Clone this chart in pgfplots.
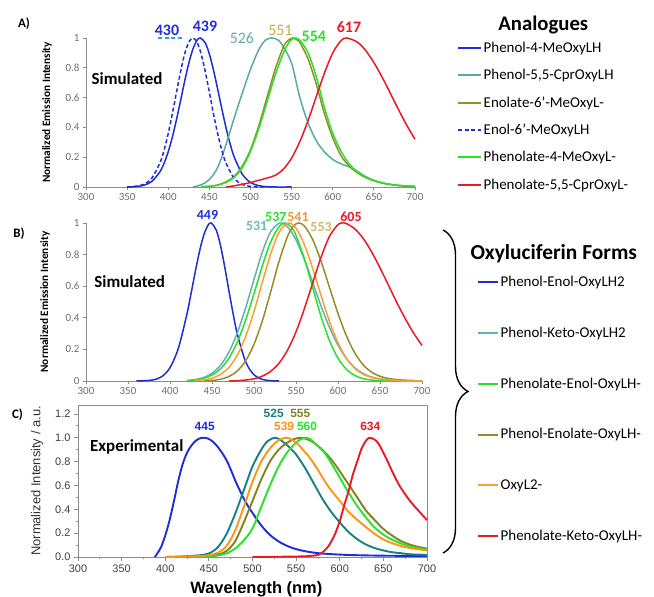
\documentclass[border=0pt]{standalone}
\usepackage{pgfplots}
\pgfplotsset{compat=1.18}
\usepackage{fontspec}
\setmainfont{Carlito}
\newfontfamily\arial{Liberation Sans}
\usetikzlibrary{decorations.pathreplacing}
\definecolor{blueA}{RGB}{30,45,215}
\definecolor{tealA}{RGB}{90,170,160}
\definecolor{oliveA}{RGB}{150,140,40}
\definecolor{greenA}{RGB}{40,225,40}
\definecolor{redA}{RGB}{235,25,35}
\definecolor{cyanA}{RGB}{40,160,235}
\definecolor{tealB}{RGB}{100,175,185}
\definecolor{orangeB}{RGB}{250,160,50}
\definecolor{tealC}{RGB}{20,130,130}
\definecolor{oliveC}{RGB}{130,130,30}
\definecolor{orangeC}{RGB}{250,150,20}
\definecolor{lab526}{RGB}{100,170,165}
\definecolor{lab551}{RGB}{195,175,70}
\definecolor{lab531}{RGB}{110,185,195}
\definecolor{lab553}{RGB}{200,190,100}
\definecolor{lab541}{RGB}{245,150,60}
\definecolor{axgray}{RGB}{140,140,140}
\definecolor{tickgray}{RGB}{110,110,110}
\begin{document}
\begin{tikzpicture}[x=1bp,y=1bp]
\path[use as bounding box] (0,0) rectangle (654,597);

%%%%%%%%%%%%%%%% Panel A
\begin{axis}[at={(86bp,410bp)}, anchor=south west, scale only axis,
  width=329bp, height=149bp, xmin=300, xmax=700, ymin=0, ymax=1,
  axis lines=left, axis line style={-, axgray, line width=0.9bp},
  xtick={300,350,400,450,500,550,600,650,700}, ytick={0,0.2,0.4,0.6,0.8,1},
  tick align=outside, major tick length=3bp, tick style={axgray, line width=0.8bp},
  tick label style={font=\fontsize{11}{13}\selectfont, text=tickgray},
  /pgf/number format/assume math mode=true, clip=false,
  ylabel={Normalized Emission Intensity},
  ylabel style={font=\bfseries\fontsize{11.3}{13}\selectfont, at={(axis description cs:-0.1185,0.5)}, anchor=center},
  legend style={at={(axis description cs:1.1277,0.9745)}, anchor=north west, draw=none, fill=none,
    inner sep=0pt, row sep=15.4bp, font=\fontsize{15}{18}\selectfont,
    nodes={inner xsep=1.5bp, inner ysep=0bp}, cells={anchor=west}},
  legend image code/.code={\draw[#1, line width=2bp] (0bp,0bp) -- (23bp,0bp);},
  every axis plot/.append style={line width=1.5bp, smooth}
]
\addplot[blueA] coordinates {(350,0)(360,0.003)(370,0.011)(380,0.037)(390,0.103)(395,0.16)(400,0.237)(405,0.335)(410,0.452)(415,0.58)(420,0.711)(425,0.831)(430,0.926)(435,0.985)(439,1)(445,0.967)(450,0.892)(455,0.785)(460,0.659)(465,0.528)(470,0.403)(475,0.294)(480,0.204)(490,0.086)(500,0.03)(510,0.009)(520,0.002)(530,0)(550,0)};
\addlegendentry{Phenol-4-MeOxyLH}
\addplot[tealA] coordinates {(430,0)(440,0.015)(450,0.05)(460,0.13)(470,0.28)(480,0.46)(490,0.63)(500,0.79)(510,0.92)(518,0.985)(526,1)(534,0.985)(540,0.94)(550,0.83)(560,0.6)(570,0.43)(580,0.31)(590,0.235)(600,0.185)(610,0.155)(620,0.135)(630,0.105)(640,0.07)(650,0.045)(660,0.027)(670,0.016)(680,0.01)(690,0.006)(700,0.004)};
\addlegendentry{Phenol-5,5-CprOxyLH}
\addplot[oliveA] coordinates {(440,0.002)(450,0.004)(460,0.013)(470,0.034)(480,0.07)(490,0.14)(500,0.25)(510,0.41)(520,0.6)(530,0.79)(540,0.94)(545,0.98)(551,1)(557,0.985)(560,0.97)(570,0.86)(580,0.69)(590,0.49)(600,0.33)(610,0.21)(620,0.14)(630,0.095)(640,0.063)(650,0.042)(660,0.027)(670,0.017)(680,0.01)(690,0.006)(700,0.004)};
\addlegendentry{Enolate-6'-MeOxyL-}
\addplot[blueA, dash pattern=on 4bp off 2.5bp] coordinates {(350,0.001)(360,0.004)(370,0.017)(380,0.059)(390,0.163)(395,0.249)(400,0.36)(405,0.492)(410,0.635)(415,0.775)(420,0.893)(425,0.972)(430,1)(435,0.972)(440,0.893)(445,0.775)(450,0.635)(455,0.492)(460,0.36)(465,0.249)(470,0.163)(480,0.059)(490,0.017)(500,0.004)(510,0.001)(520,0)};
\addlegendentry{Enol-6'-MeOxyLH}
\addplot[greenA] coordinates {(440,0.002)(450,0.005)(460,0.012)(470,0.03)(480,0.065)(490,0.13)(500,0.24)(510,0.39)(520,0.57)(530,0.75)(540,0.9)(548,0.98)(554,1)(560,0.985)(570,0.9)(580,0.74)(590,0.53)(600,0.36)(610,0.24)(620,0.155)(630,0.1)(640,0.066)(650,0.043)(660,0.028)(670,0.018)(680,0.011)(690,0.007)(700,0.004)};
\addlegendentry{Phenolate-4-MeOxyL-}
\addplot[redA] coordinates {(470,0)(480,0.008)(490,0.018)(500,0.03)(510,0.045)(520,0.06)(530,0.078)(540,0.12)(550,0.194)(560,0.305)(570,0.446)(580,0.607)(590,0.766)(600,0.9)(610,0.982)(617,1)(630,0.972)(640,0.916)(650,0.835)(660,0.737)(670,0.629)(680,0.519)(690,0.414)(700,0.32)};
\addlegendentry{Phenolate-5,5-CprOxyL-}
\addplot[cyanA, dash pattern=on 4bp off 2.5bp, forget plot, sharp plot] coordinates {(388,1)(417,1)};
\node[text=blueA, font=\bfseries\fontsize{16}{18}\selectfont] at (axis cs:398.5,1.054) {430};
\node[text=blueA, font=\bfseries\fontsize{16}{18}\selectfont] at (axis cs:444.7,1.076) {439};
\node[text=lab526, font=\fontsize{16}{18}\selectfont] at (axis cs:489.6,0.998) {526};
\node[text=lab551, font=\fontsize{16}{18}\selectfont] at (axis cs:536.4,1.049) {551};
\node[text=greenA, font=\bfseries\fontsize{16}{18}\selectfont] at (axis cs:577,1.009) {554};
\node[text=redA, font=\bfseries\fontsize{16}{18}\selectfont] at (axis cs:619.7,1.076) {617};
\end{axis}

%%%%%%%%%%%%%%%% Panel B
\begin{axis}[at={(86bp,216bp)}, anchor=south west, scale only axis,
  width=336bp, height=158bp, xmin=300, xmax=700, ymin=0, ymax=1,
  axis lines=left, axis line style={-, axgray, line width=0.9bp},
  xtick={300,350,400,450,500,550,600,650,700}, ytick={0,0.2,0.4,0.6,0.8,1},
  tick align=outside, major tick length=3bp, tick style={axgray, line width=0.8bp},
  tick label style={font=\fontsize{11}{13}\selectfont, text=tickgray},
  /pgf/number format/assume math mode=true, clip=false,
  ylabel={Normalized Emission Intensity},
  ylabel style={font=\bfseries\fontsize{11.3}{13}\selectfont, at={(axis description cs:-0.122,0.5)}, anchor=center},
  legend style={at={(axis description cs:1.1637,0.6658)}, anchor=north west, draw=none, fill=none,
    inner sep=0pt, row sep=39bp, font=\fontsize{15}{18}\selectfont,
    nodes={inner xsep=1.5bp, inner ysep=0bp}, cells={anchor=west}},
  legend image code/.code={\draw[#1, line width=2bp] (0bp,0bp) -- (20bp,0bp);},
  every axis plot/.append style={line width=1.5bp, smooth}
]
\addplot[blueA] coordinates {(360,0)(370,0.002)(380,0.007)(390,0.027)(400,0.084)(410,0.208)(420,0.42)(425,0.552)(430,0.689)(435,0.817)(440,0.92)(445,0.984)(449,1)(455,0.956)(460,0.86)(465,0.726)(470,0.576)(475,0.43)(480,0.3)(490,0.122)(500,0.039)(510,0.01)(520,0.002)(530,0)};
\addlegendentry{Phenol-Enol-OxyLH2}
\addplot[tealB] coordinates {(420,0.002)(430,0.009)(440,0.022)(450,0.049)(460,0.099)(470,0.181)(480,0.303)(490,0.462)(500,0.643)(510,0.817)(520,0.946)(531,1)(540,0.975)(550,0.893)(560,0.769)(570,0.622)(580,0.472)(590,0.337)(600,0.226)(610,0.142)(620,0.084)(630,0.047)(640,0.025)(650,0.014)(660,0.008)(670,0.004)(680,0.002)(690,0.001)(700,0)};
\addlegendentry{Phenol-Keto-OxyLH2}
\addplot[greenA] coordinates {(420,0.003)(430,0.007)(440,0.017)(450,0.038)(460,0.077)(470,0.143)(480,0.245)(490,0.385)(500,0.553)(510,0.73)(520,0.882)(530,0.979)(537,1)(545,0.97)(550,0.921)(560,0.772)(570,0.588)(580,0.405)(590,0.254)(600,0.144)(610,0.074)(620,0.035)(630,0.015)(640,0.006)(650,0.002)(660,0.001)(670,0)(700,0)};
\addlegendentry{Phenolate-Enol-OxyLH-}
\addplot[oliveA] coordinates {(440,0.002)(450,0.004)(460,0.011)(470,0.028)(480,0.063)(490,0.127)(500,0.232)(510,0.382)(520,0.567)(530,0.76)(540,0.916)(547,0.98)(553,1)(560,0.981)(570,0.894)(580,0.755)(590,0.59)(600,0.427)(610,0.286)(620,0.177)(630,0.102)(640,0.056)(650,0.03)(660,0.016)(670,0.009)(680,0.005)(690,0.003)(700,0.001)};
\addlegendentry{Phenol-Enolate-OxyLH-}
\addplot[orangeB] coordinates {(430,0.003)(440,0.007)(450,0.018)(460,0.041)(470,0.085)(480,0.162)(490,0.281)(500,0.44)(510,0.626)(520,0.806)(530,0.943)(541,1)(550,0.967)(560,0.863)(570,0.71)(580,0.538)(590,0.375)(600,0.242)(610,0.143)(620,0.08)(630,0.042)(640,0.022)(650,0.012)(660,0.007)(670,0.004)(680,0.002)(690,0.001)(700,0)};
\addlegendentry{OxyL2-}
\addplot[redA] coordinates {(470,0)(480,0.002)(490,0.006)(500,0.014)(510,0.031)(520,0.062)(530,0.114)(540,0.196)(550,0.311)(560,0.458)(570,0.623)(580,0.786)(590,0.917)(600,0.99)(605,1)(610,0.996)(620,0.963)(630,0.902)(640,0.817)(650,0.716)(660,0.607)(670,0.497)(680,0.395)(690,0.303)(700,0.225)};
\addlegendentry{Phenolate-Keto-OxyLH-}
\node[text=blueA, font=\bfseries\fontsize{14}{16}\selectfont] at (axis cs:444.6,1.05) {449};
\node[text=greenA, font=\bfseries\fontsize{14}{16}\selectfont] at (axis cs:526,1.04) {537};
\node[text=lab541, font=\bfseries\fontsize{14}{16}\selectfont] at (axis cs:552.4,1.04) {541};
\node[text=lab531, font=\bfseries\fontsize{14}{16}\selectfont] at (axis cs:503.2,0.98) {531};
\node[text=lab553, font=\bfseries\fontsize{14}{16}\selectfont] at (axis cs:579.8,0.973) {553};
\node[text=redA, font=\bfseries\fontsize{14}{16}\selectfont] at (axis cs:615.5,1.04) {605};
\end{axis}

%%%%%%%%%%%%%%%% Panel C
\begin{axis}[at={(78bp,40bp)}, anchor=south west, scale only axis,
  width=349bp, height=152bp, xmin=300, xmax=700, ymin=0, ymax=1.275,
  axis line style={axgray, line width=0.9bp},
  xtick={300,350,400,450,500,550,600,650,700}, ytick={0,0.2,0.4,0.6,0.8,1.0,1.2},
  minor x tick num=1, minor y tick num=1,
  xtick pos=bottom, ytick pos=left,
  tick align=outside, major tick length=4bp, minor tick length=2.5bp,
  tick style={axgray, line width=0.8bp},
  tick label style={font=\arial\fontsize{11}{13}\selectfont, text=black!75},
  yticklabel style={/pgf/number format/.cd, fixed, fixed zerofill, precision=1},
  /pgf/number format/assume math mode=true, clip=false,
  xlabel={Wavelength (nm)},
  xlabel style={font=\arial\bfseries\fontsize{16.5}{19}\selectfont, at={(axis description cs:0.511,-0.21)}, anchor=center},
  ylabel={Normalized Intensity / a.u.},
  ylabel style={font=\arial\fontsize{13}{15}\selectfont, text=black!80, at={(axis description cs:-0.1175,0.5)}, anchor=center},
  every axis plot/.append style={line width=1.9bp, smooth}
]
\addplot[blueA] coordinates {(388,0)(390,0.02)(395,0.08)(400,0.18)(405,0.31)(410,0.47)(415,0.64)(420,0.78)(425,0.875)(430,0.935)(435,0.975)(440,0.996)(445,1)(450,0.99)(455,0.965)(460,0.925)(465,0.875)(470,0.815)(475,0.735)(480,0.645)(485,0.565)(490,0.49)(495,0.425)(500,0.37)(510,0.265)(520,0.185)(530,0.13)(540,0.092)(550,0.066)(560,0.049)(570,0.037)(580,0.029)(600,0.02)(620,0.015)(650,0.011)(700,0.008)};
\addplot[tealC] coordinates {(400,0)(420,0.005)(440,0.015)(450,0.03)(460,0.08)(470,0.19)(480,0.36)(490,0.56)(500,0.76)(510,0.9)(517,0.97)(525,1)(530,0.99)(537,0.955)(545,0.9)(550,0.86)(560,0.75)(570,0.62)(580,0.49)(590,0.38)(600,0.29)(610,0.21)(620,0.15)(630,0.105)(640,0.075)(650,0.055)(660,0.04)(670,0.032)(680,0.023)(690,0.02)(700,0.018)};
\addplot[oliveC] coordinates {(420,0)(440,0.005)(460,0.02)(470,0.05)(480,0.13)(490,0.29)(500,0.47)(510,0.65)(520,0.8)(530,0.9)(540,0.96)(548,0.99)(555,1)(562,0.99)(570,0.96)(580,0.9)(590,0.82)(600,0.72)(610,0.61)(620,0.5)(630,0.39)(640,0.31)(650,0.235)(660,0.18)(670,0.135)(680,0.105)(690,0.085)(700,0.07)};
\addplot[greenA] coordinates {(430,0)(450,0.005)(460,0.012)(470,0.03)(480,0.07)(490,0.14)(500,0.24)(510,0.42)(520,0.6)(530,0.76)(540,0.88)(550,0.96)(556,0.99)(560,1)(566,0.99)(572,0.95)(583,0.87)(595,0.73)(606,0.59)(618,0.45)(629,0.34)(641,0.24)(656,0.16)(675,0.1)(690,0.073)(700,0.062)};
\addplot[orangeC] coordinates {(400,0)(420,0.003)(440,0.008)(450,0.015)(460,0.035)(470,0.09)(480,0.22)(490,0.42)(500,0.63)(510,0.8)(520,0.91)(530,0.98)(539,1)(545,0.985)(553,0.94)(560,0.88)(565,0.84)(575,0.73)(587,0.59)(599,0.48)(610,0.38)(622,0.3)(637,0.21)(652,0.14)(671,0.09)(685,0.07)(700,0.055)};
\addplot[redA] coordinates {(500,0)(540,0.003)(560,0.006)(570,0.012)(576,0.02)(582,0.05)(587,0.09)(591,0.14)(595,0.2)(600,0.3)(605,0.43)(610,0.55)(615,0.69)(620,0.8)(625,0.91)(630,0.975)(634,1)(640,0.985)(645,0.945)(650,0.875)(655,0.8)(660,0.72)(665,0.645)(670,0.58)(680,0.475)(690,0.39)(700,0.31)};
\node[text=blueA, font=\arial\bfseries\fontsize{12}{14}\selectfont] at (axis cs:445.2,1.093) {445};
\node[text=tealC, font=\arial\bfseries\fontsize{12}{14}\selectfont] at (axis cs:524.3,1.205) {525};
\node[text=oliveC, font=\arial\bfseries\fontsize{12}{14}\selectfont] at (axis cs:554.8,1.205) {555};
\node[text=orangeC, font=\arial\bfseries\fontsize{12}{14}\selectfont] at (axis cs:536.3,1.093) {539};
\node[text=greenA, font=\arial\bfseries\fontsize{12}{14}\selectfont] at (axis cs:562.5,1.093) {560};
\node[text=redA, font=\arial\bfseries\fontsize{12}{14}\selectfont] at (axis cs:635,1.093) {634};
\end{axis}

%%%%%%%%%%%%%%%% annotations
\node[font=\bfseries\fontsize{13}{15}\selectfont] at (24,573.7) {A)};
\node[font=\bfseries\fontsize{13}{15}\selectfont] at (19,363.7) {B)};
\node[font=\bfseries\fontsize{13}{15}\selectfont] at (17.5,182.7) {C)};
\node[font=\bfseries\fontsize{17}{20}\selectfont] at (127,518.7) {Simulated};
\node[font=\bfseries\fontsize{17}{20}\selectfont] at (129.7,315.3) {Simulated};
\node[font=\bfseries\fontsize{17}{20}\selectfont] at (136.8,150.3) {Experimental};
\node[font=\bfseries\fontsize{20.8}{24}\selectfont] at (543.3,572) {Analogues};
\node[font=\bfseries\fontsize{21.5}{24}\selectfont] at (553.8,343.7) {Oxyluciferin Forms};
\draw[decorate, decoration={brace, amplitude=25bp}, line width=1.4bp] (443,367) -- (443,44);
\end{tikzpicture}
\end{document}
